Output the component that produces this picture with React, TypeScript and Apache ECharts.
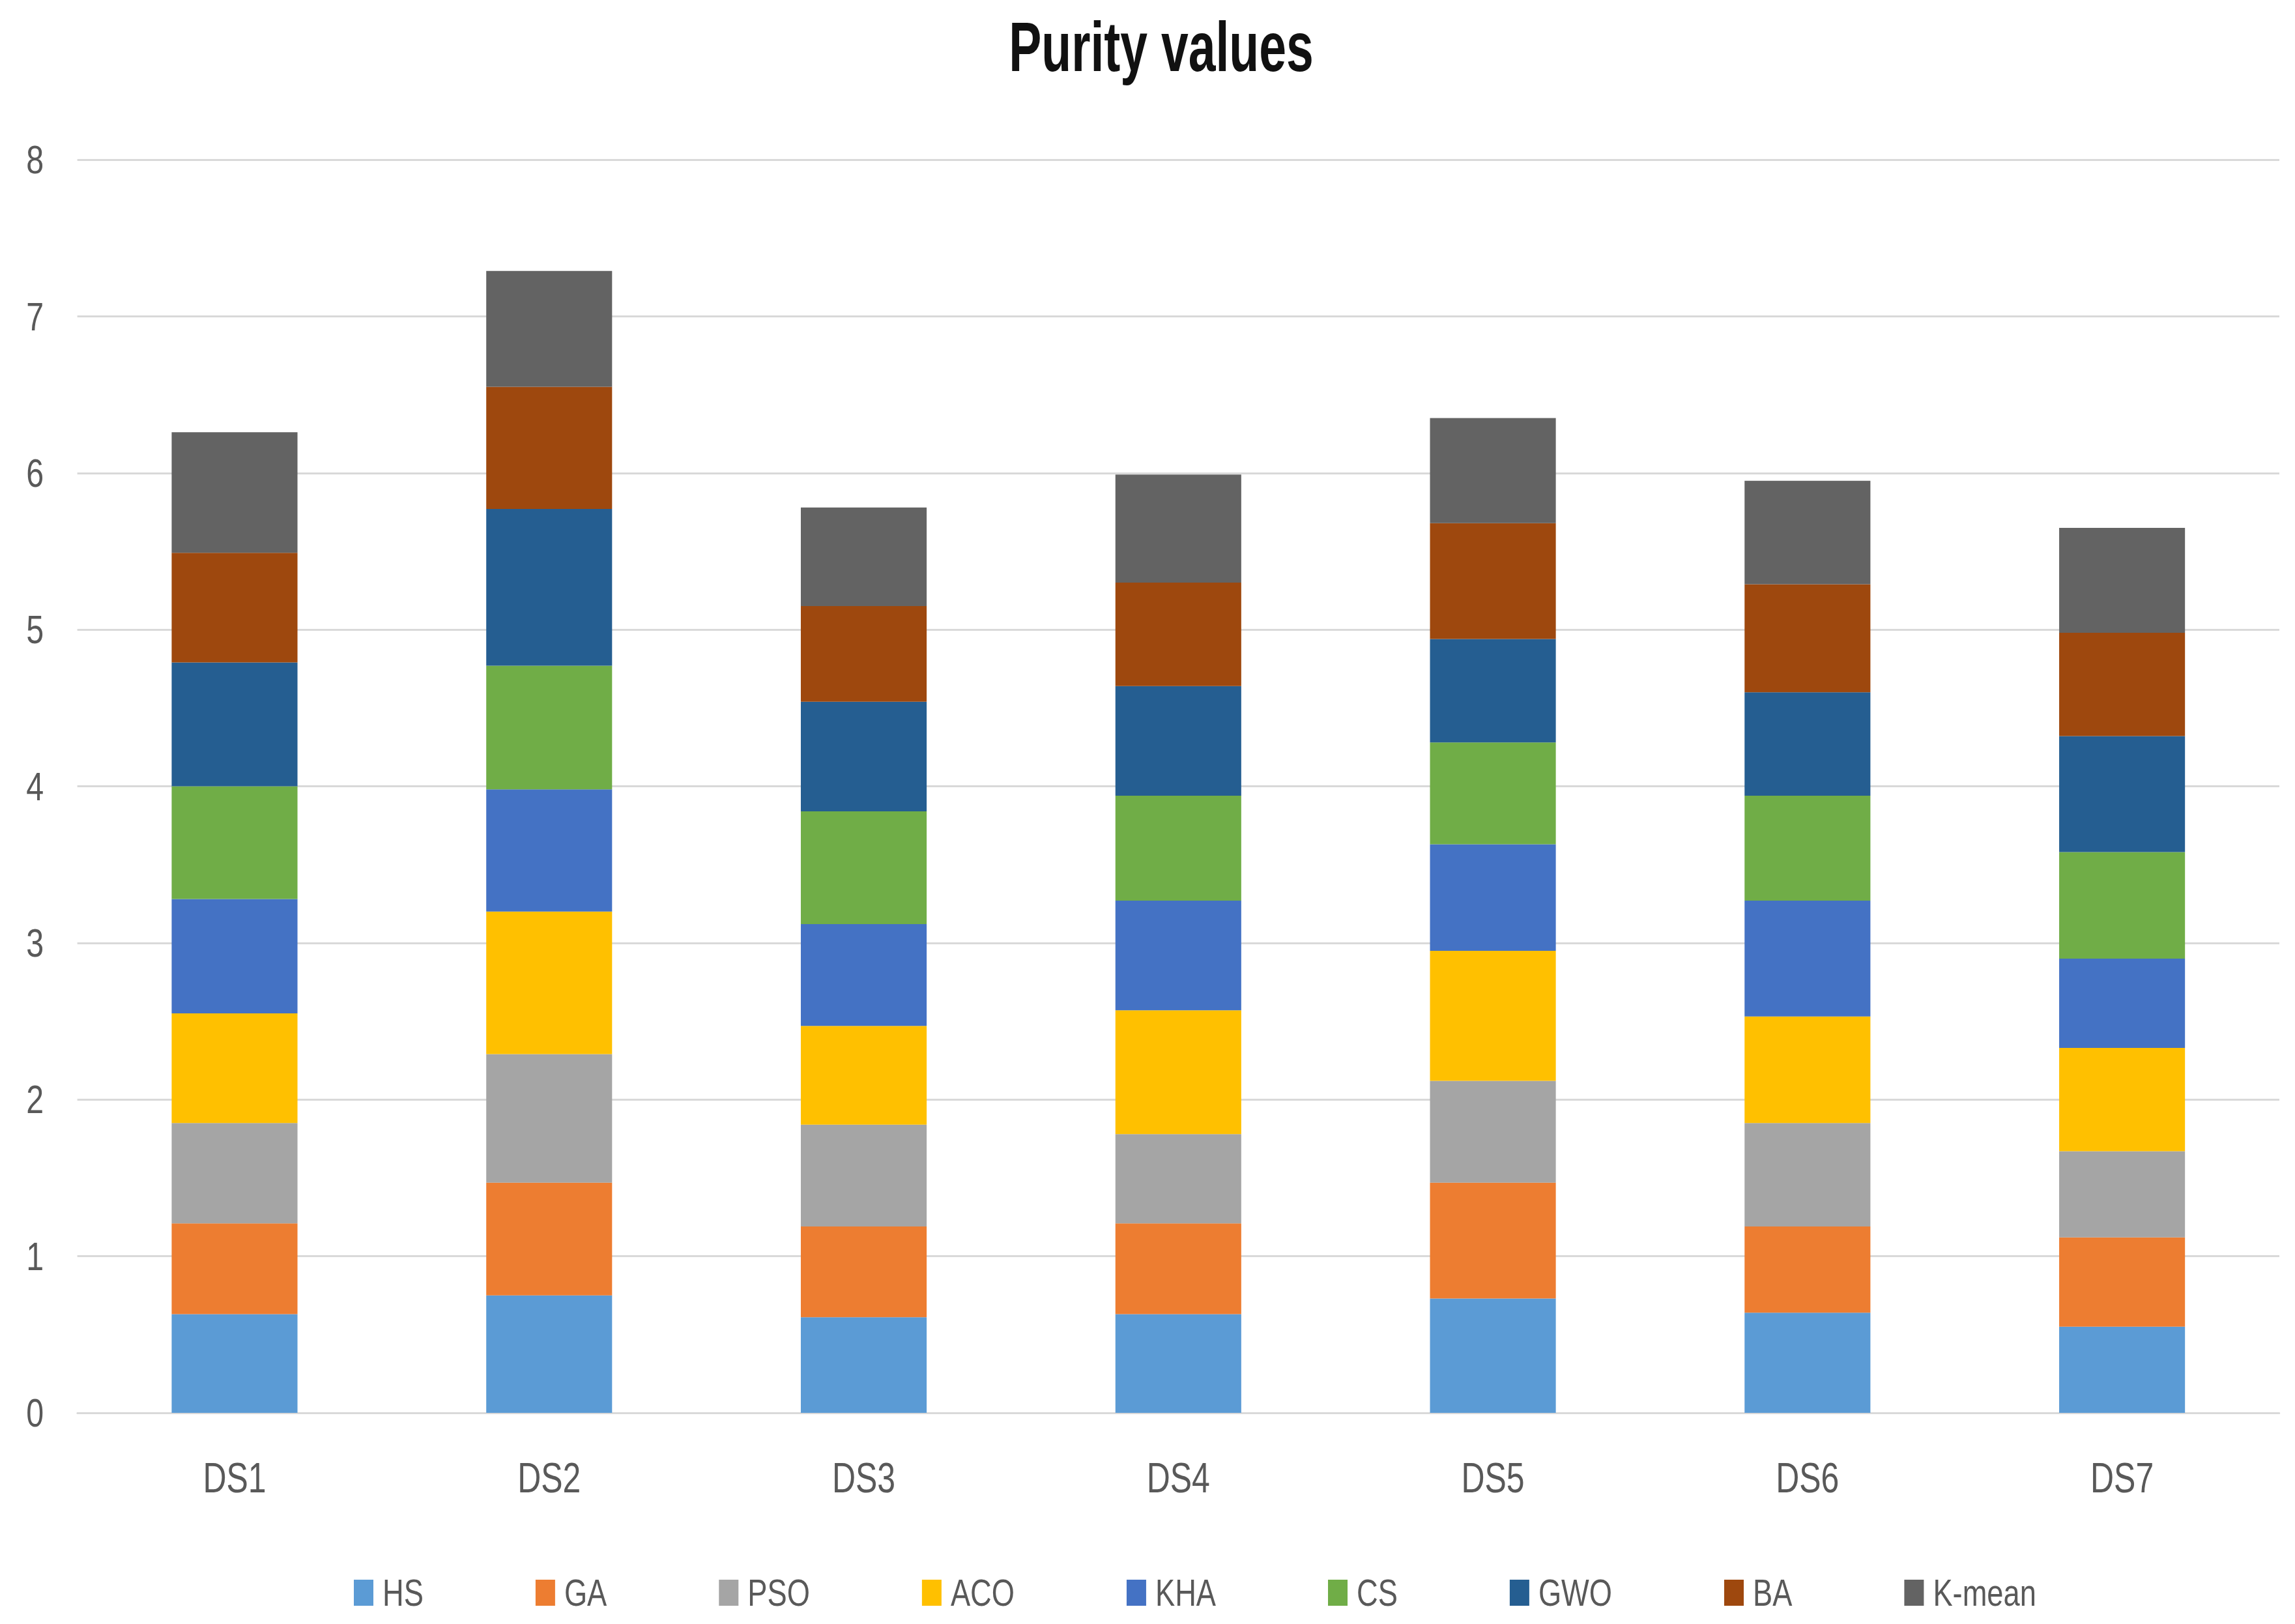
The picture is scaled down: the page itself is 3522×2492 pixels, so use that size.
import React, { useEffect, useRef } from "react";
import * as echarts from "echarts";

const categories = ["DS1", "DS2", "DS3", "DS4", "DS5", "DS6", "DS7"];
const seriesNames = ["HS", "GA", "PSO", "ACO", "KHA", "CS", "GWO", "BA", "K-mean"];
const HS = [0.63, 0.75, 0.61, 0.63, 0.73, 0.64, 0.55];
const GA = [0.58, 0.72, 0.58, 0.58, 0.74, 0.55, 0.57];
const PSO = [0.64, 0.82, 0.65, 0.57, 0.65, 0.66, 0.55];
const ACO = [0.7, 0.91, 0.63, 0.79, 0.83, 0.68, 0.66];
const KHA = [0.73, 0.78, 0.65, 0.7, 0.68, 0.74, 0.57];
const CS = [0.72, 0.79, 0.72, 0.67, 0.65, 0.67, 0.68];
const GWO = [0.79, 1.0, 0.7, 0.7, 0.66, 0.66, 0.74];
const BA = [0.7, 0.78, 0.61, 0.66, 0.74, 0.69, 0.66];
const KMEAN = [0.77, 0.74, 0.63, 0.69, 0.67, 0.66, 0.67];
const seriesValues = [HS, GA, PSO, ACO, KHA, CS, GWO, BA, KMEAN];
const colors = ["#5B9BD5", "#ED7D31", "#A5A5A5", "#FFC000", "#4472C4", "#70AD47", "#255E91", "#9E480E", "#636363"];

const FULL_W = 3522;
const FULL_H = 2492;
const S = 0.78; // horizontal condensation of the reference
const W = FULL_W / S;
const FONT = "'Liberation Sans', Arial, sans-serif";

export default function App() {
  const ref = useRef<HTMLDivElement>(null);
  useEffect(() => {
    if (!ref.current) return;
    const chart = echarts.init(ref.current, null, { renderer: "svg", width: W, height: FULL_H });
    chart.setOption({
      animation: false,
      backgroundColor: "#ffffff",
      color: colors,
      graphic: [
        {
          type: "text",
          x: 1782 / S,
          y: 18,
          scaleX: 0.9,
          style: {
            text: "Purity values",
            fontFamily: FONT,
            fontWeight: "bold",
            fontSize: 107,
            fill: "#111111",
            textAlign: "center",
            textVerticalAlign: "top",
          },
        },
      ],
      legend: {
        data: seriesNames,
        left: 543 / S,
        top: 2415,
        padding: 0,
        itemWidth: 30 / S,
        itemHeight: 40,
        itemGap: 172 / S,
        icon: "rect",
        textStyle: {
          fontFamily: FONT,
          fontSize: 58,
          color: "#595959",
          padding: [0, 0, 0, 13],
        },
      },
      grid: {
        left: 118.6 / S,
        right: (FULL_W - 3498) / S,
        top: 245,
        bottom: FULL_H - 2168,
        containLabel: false,
      },
      xAxis: {
        type: "category",
        data: categories,
        axisLine: { show: true, lineStyle: { color: "#D9D9D9", width: 3 } },
        axisTick: { show: false },
        axisLabel: {
          fontFamily: FONT,
          fontSize: 64,
          color: "#595959",
          margin: 68,
        },
      },
      yAxis: {
        type: "value",
        min: 0,
        max: 8,
        interval: 1,
        axisLine: { show: false },
        axisTick: { show: false },
        splitLine: { lineStyle: { color: "#D9D9D9", width: 3 } },
        axisLabel: {
          fontFamily: FONT,
          fontSize: 62,
          color: "#595959",
          margin: 66,
        },
      },
      series: seriesNames.map((name, i) => ({
        name,
        type: "bar",
        stack: "total",
        barWidth: "40%",
        data: seriesValues[i],
        itemStyle: { color: colors[i] },
      })),
    });
    return () => chart.dispose();
  }, []);

  return (
    <div
      style={{
        position: "fixed",
        left: 0,
        top: 0,
        width: FULL_W,
        height: FULL_H,
        overflow: "hidden",
        background: "#ffffff",
      }}
    >
      <div
        ref={ref}
        style={{
          width: W,
          height: FULL_H,
          transform: `scaleX(${S})`,
          transformOrigin: "0 0",
        }}
      />
    </div>
  );
}
